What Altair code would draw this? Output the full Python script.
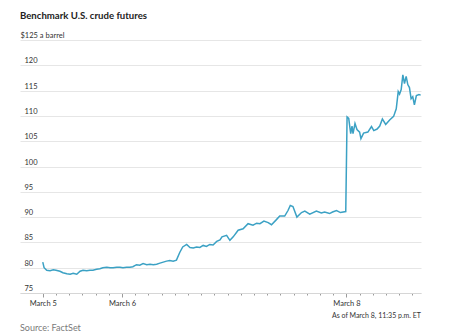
import altair as alt
import pandas as pd

# hours of trading time since March 5, 00:00 (weekend gap compressed)
hours = [0, 0.4, 1.2, 2.2, 3.2, 4.0, 5.2, 6.1, 7.3, 8.3, 9.2, 10.3, 11.3, 12.2, 13.3,
         14.3, 15.2, 16.3, 17.3, 18.2, 19.4, 20.4, 21.3, 22.4, 23.4, 24.3, 25.4, 26.4,
         27.3, 28.4, 29.4, 30.4, 31.5, 32.5, 33.5, 34.5, 35.5, 36.5, 37.5, 38.5, 39.5,
         40.5, 41.5, 42.4, 43.6, 44.6, 45.6, 46.6, 47.6, 48.6, 49.6, 50.6, 51.6, 52.7,
         53.7, 54.3, 55.7, 56.7, 57.7, 59.2, 60.7, 62.2, 63.7, 64.8, 65.8, 67.0, 68.3,
         69.3, 70.8, 71.8, 73.3, 74.3, 75.0, 75.8, 77.0, 78.4, 79.4, 80.9, 82.9, 84.4,
         85.4, 86.9, 87.8, 89.0, 90.2, 91.8, 92.2, 92.7, 93.3, 93.7, 94.0, 94.6, 95.2,
         96.0, 96.4, 97.2, 98.5, 99.6, 100.3, 101.3, 102.1, 102.9, 103.9, 105.1, 106.3,
         107.1, 107.7, 108.1, 108.6, 109.1, 109.6, 110.1, 110.6, 111.1, 111.6, 112.1,
         112.6, 113.2, 114.0, 114.5]
prices = [81.1, 80.0, 79.5, 79.4, 79.6, 79.5, 79.3, 79.0, 78.8, 78.7, 78.9, 78.7, 79.3,
          79.5, 79.4, 79.5, 79.5, 79.7, 79.8, 80.0, 80.1, 80.0, 80.0, 80.1, 80.1, 80.0,
          80.1, 80.1, 80.2, 80.6, 80.5, 80.8, 80.6, 80.7, 80.6, 80.7, 80.9, 81.1, 81.3,
          81.4, 81.3, 81.5, 83.0, 84.1, 84.6, 84.0, 83.9, 84.1, 84.0, 84.4, 84.2, 84.6,
          84.5, 85.2, 85.5, 86.1, 86.4, 85.4, 86.1, 87.4, 87.7, 88.7, 88.4, 88.8, 88.7,
          89.2, 88.9, 88.5, 89.5, 90.2, 90.2, 91.3, 92.3, 92.1, 90.0, 90.9, 91.2, 90.6,
          91.2, 90.8, 91.0, 90.7, 91.0, 91.3, 90.9, 91.1, 109.8, 109.5, 106.5, 108.0,
          106.5, 108.5, 107.3, 106.8, 105.5, 106.6, 106.8, 107.9, 107.1, 107.4, 108.0,
          109.4, 108.3, 109.2, 109.9, 111.4, 114.8, 114.3, 115.2, 118.1, 116.4, 117.8,
          116.2, 115.6, 113.4, 113.8, 112.2, 114.0, 114.2, 114.1]

tick_hours = list(range(0, 113, 4))
date_labels = {0: "March 5", 24: "March 6", 92: "March 8"}
y_ticks = [75, 80, 85, 90, 95, 100, 105, 110, 115, 120, 125]

title_text = "Benchmark U.S. crude futures"
source_text = "Source: FactSet"
asof_text = "As of March 8, 11:35 p.m. ET"

FONT = "Lato"
W, H = 401, 253

df = pd.DataFrame({"h": hours, "price": prices})

label_expr = " : ".join(
    [f"datum.value == {k} ? '{v}'" for k, v in date_labels.items()]) + " : ''"

x_scale = alt.Scale(domain=[-6.9, 114.6], nice=False, zero=False)
y_scale = alt.Scale(domain=[75, 125], nice=False, zero=False)

line = alt.Chart(df).mark_line(color="#3ba1c4", strokeWidth=1.5, clip=True).encode(
    x=alt.X("h:Q", scale=x_scale, axis=alt.Axis(
        values=tick_hours, labelExpr=label_expr, labelOverlap=False, grid=False,
        domain=True, domainColor="#d6d6d6", ticks=True,
        tickSize={"condition": {"test": "datum.value == 0 || datum.value == 24 || datum.value == 92", "value": 4}, "value": 2},
        tickColor="#9a9a9a", labelFont=FONT, labelFontSize=7.5, labelColor="#333333",
        labelBaseline="alphabetic", labelPadding=8, title=None)),
    y=alt.Y("price:Q", scale=y_scale, axis=alt.Axis(
        values=y_ticks, orient="left", domain=False, ticks=False, grid=True,
        gridColor="#e6e6e6", gridWidth=1,
        labelExpr="datum.value == 125 ? '$125 a barrel' : datum.label",
        labelAlign="left", labelBaseline="alphabetic", labelOffset=-2.5,
        labelPadding={"condition": {"test": "datum.value == 125", "value": 0}, "value": -4},
        labelFont=FONT, labelFontSize=7.5, labelColor="#333333", title=None)),
)

title = alt.Chart(pd.DataFrame({"t": [title_text]})).mark_text(
    align="left", baseline="alphabetic", font=FONT, fontSize=9.6, fontWeight="bold",
    color="#222222").encode(x=alt.value(0), y=alt.value(-21.2), text="t:N")

source = alt.Chart(pd.DataFrame({"t": [source_text]})).mark_text(
    align="left", baseline="alphabetic", font=FONT, fontSize=9,
    color="#7a7a7a").encode(x=alt.value(0), y=alt.value(37.6 + H), text="t:N")

asof = alt.Chart(pd.DataFrame({"t": [asof_text]})).mark_text(
    align="right", baseline="alphabetic", font=FONT, fontSize=7,
    color="#333333").encode(x=alt.value(W), y=alt.value(25.0 + H), text="t:N")

chart = alt.layer(line, title, source, asof).properties(
    width=W, height=H,
    autosize=alt.AutoSizeParams(type="none"),
    padding={"left": 20, "top": 40, "right": 37, "bottom": 43},
    background="white",
).configure_view(stroke=None)

chart.save("out.html", embed_options={"renderer": "svg", "actions": False})
